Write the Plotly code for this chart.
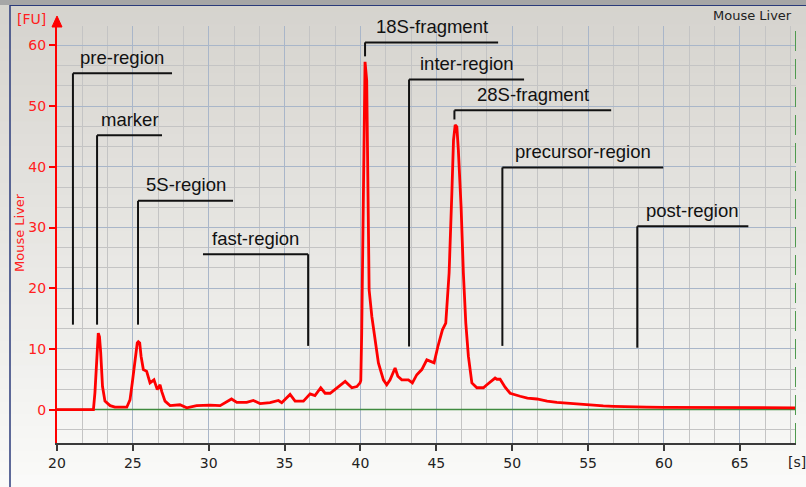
import plotly.graph_objects as go

# ---------------- data ----------------
time_s = [20.0, 22.40, 22.50, 22.62, 22.72, 22.80, 22.88, 23.0, 23.16, 23.5, 23.82, 24.6,
          24.81, 24.96, 25.14, 25.29, 25.36, 25.45, 25.54, 25.69, 25.91, 26.13, 26.39, 26.61,
          26.79, 26.90, 27.12, 27.45, 28.1, 28.55, 29.2, 30.08, 30.75, 31.5, 31.85, 32.5,
          32.94, 33.38, 34.04, 34.59, 34.81, 35.36, 35.69, 36.24, 36.68, 37.0, 37.38, 37.67,
          38.0, 38.44, 38.99, 39.43, 39.76, 39.97, 40.02, 40.08, 40.19, 40.30, 40.41, 40.48,
          40.57, 40.75, 40.96, 41.18, 41.51, 41.73, 41.95, 42.28, 42.46, 42.72, 43.16, 43.42,
          43.71, 44.04, 44.37, 44.59, 44.85, 45.1, 45.4, 45.62, 45.84, 46.02, 46.13, 46.24,
          46.35, 46.45, 46.63, 46.78, 46.94, 47.11, 47.34, 47.67, 48.1, 48.33, 48.87, 48.99,
          49.2, 49.53, 49.86, 50.52, 51.0, 51.62, 52.3, 52.94, 53.8, 54.92, 56.0, 56.67,
          57.5, 58.87, 60.0, 61.5, 63.26, 64.5, 65.5, 66.78, 68.65]
fluor = [0.0, 0.0, 2.8, 9.0, 12.6, 12.0, 9.4, 3.8, 1.4, 0.65, 0.4, 0.4,
         1.6, 4.4, 8.2, 11.0, 11.2, 11.0, 8.8, 6.6, 6.3, 4.4, 4.9, 3.3,
         4.1, 3.0, 1.4, 0.66, 0.8, 0.3, 0.66, 0.75, 0.66, 1.75, 1.2, 1.2,
         1.5, 1.0, 1.15, 1.5, 1.15, 2.5, 1.4, 1.4, 2.6, 2.3, 3.6, 2.7,
         2.7, 3.6, 4.65, 3.6, 3.8, 4.4, 4.8, 12.6, 40.0, 57.3, 54.2, 34.5,
         19.7, 15.3, 11.5, 7.7, 4.9, 4.1, 4.9, 6.85, 5.5, 4.9, 4.9, 4.4,
         5.75, 6.6, 8.2, 7.95, 7.7, 10.4, 13.15, 14.25, 22.5, 35.6, 44.4, 46.9,
         46.6, 42.7, 33.4, 22.5, 14.25, 8.8, 4.4, 3.6, 3.6, 4.1, 5.2, 5.0,
         5.0, 3.7, 2.7, 2.2, 1.9, 1.75, 1.4, 1.2, 1.0, 0.8, 0.6, 0.55,
         0.45, 0.4, 0.38, 0.35, 0.35, 0.38, 0.32, 0.3, 0.3]

region_names = ["pre-region", "marker", "5S-region", "fast-region", "18S-fragment",
                "inter-region", "28S-fragment", "precursor-region", "post-region"]
region_stem_x = [21.05, 22.64, 25.34, 36.55, 40.30, 43.20, 46.19, 49.35, 58.24]
region_bar_left = [21.05, 22.64, 25.34, 29.62, 40.30, 43.20, 46.19, 49.35, 58.24]
region_bar_right = [27.58, 26.92, 31.60, 36.55, 49.07, 50.78, 56.52, 59.95, 65.56]
region_bar_y = [55.4, 45.2, 34.4, 25.6, 60.5, 54.4, 49.3, 39.9, 30.2]
region_stem_bottom = [14.0, 14.0, 14.0, 10.5, 58.2, 10.4, 47.8, 10.5, 10.2]

x_ticks = [20, 25, 30, 35, 40, 45, 50, 55, 60, 65]
y_ticks = [0, 10, 20, 30, 40, 50, 60]
x_range = [20, 68.7]
y_range = [-5.5, 63.2]

# ---------------- layout helpers ----------------
W, H = 806, 487
L, R, T, B = 57, 10, 26, 44
PW, PH = W - L - R, H - T - B


def pxx(x):
    return (x - L) / PW


def pxy(y):
    return (H - B - y) / PH


fig = go.Figure()

# region marker lines
lx, ly = [], []
for i in range(len(region_names)):
    lx += [region_stem_x[i], region_stem_x[i], None, region_bar_left[i], region_bar_right[i], None]
    ly += [region_stem_bottom[i], region_bar_y[i], None, region_bar_y[i], region_bar_y[i], None]
fig.add_trace(go.Scatter(x=lx, y=ly, mode="lines", line=dict(color="#111111", width=2),
                         hoverinfo="skip", showlegend=False))

# baseline
fig.add_trace(go.Scatter(x=x_range, y=[0, 0], mode="lines", line=dict(color="#3f8a3f", width=1.5),
                         hoverinfo="skip", showlegend=False))

# electropherogram
fig.add_trace(go.Scatter(x=time_s, y=fluor, mode="lines", line=dict(color="#ff0000", width=2.8),
                         showlegend=False))

for i, name in enumerate(region_names):
    fig.add_annotation(x=(region_bar_left[i] + region_bar_right[i]) / 2, y=region_bar_y[i],
                       text=name, showarrow=False, xanchor="center", yanchor="middle", yshift=16,
                       font=dict(family="Liberation Sans", size=18.5, color="#111111"))

# background gradient
n = 40
c0 = (214, 212, 206)
c1 = (250, 250, 249)
for k in range(n):
    t = k / (n - 1)
    col = "rgb(%d,%d,%d)" % tuple(int(c0[j] + (c1[j] - c0[j]) * t) for j in range(3))
    y_top = H * k / n
    y_bot = H * (k + 1) / n + 1
    fig.add_shape(type="rect", xref="paper", yref="paper", x0=pxx(0), x1=pxx(W),
                  y0=pxy(y_bot), y1=pxy(y_top), fillcolor=col, line_width=0, layer="below")

# frame
fig.add_shape(type="rect", xref="paper", yref="paper", x0=pxx(0), x1=pxx(W), y0=pxy(5), y1=pxy(0),
              fillcolor="#a6a6a6", line_width=0, layer="below")
fig.add_shape(type="line", xref="paper", yref="paper", x0=pxx(10), x1=pxx(10), y0=pxy(H), y1=pxy(5),
              line=dict(color="#2a3a7a", width=1.5))
fig.add_shape(type="line", xref="paper", yref="paper", x0=pxx(10), x1=pxx(W), y0=pxy(5.5), y1=pxy(5.5),
              line=dict(color="#2a3a7a", width=1))

# right dashed green border
fig.add_shape(type="line", xref="x", yref="paper", x0=x_range[1], x1=x_range[1], y0=0, y1=1,
              line=dict(color="#4f9a4f", width=2, dash="20px,8px"))

# y axis arrow
fig.add_shape(type="path", xref="paper", yref="paper",
              path="M %f %f L %f %f L %f %f Z" % (pxx(L - 5), pxy(27), pxx(L), pxy(16), pxx(L + 5), pxy(27)),
              fillcolor="#ff0000", line=dict(color="#ff0000", width=1))

# texts
fig.add_annotation(xref="paper", yref="paper", x=pxx(31), y=pxy(19), text="[FU]", showarrow=False,
                   xanchor="center", yanchor="middle",
                   font=dict(family="DejaVu Sans", size=14, color="#ff2020"))
fig.add_annotation(xref="paper", yref="paper", x=pxx(797), y=pxy(462), text="[s]", showarrow=False,
                   xanchor="center", yanchor="middle",
                   font=dict(family="DejaVu Sans", size=14, color="#222222"))
fig.add_annotation(xref="paper", yref="paper", x=pxx(752), y=pxy(16), text="Mouse Liver", showarrow=False,
                   xanchor="center", yanchor="middle",
                   font=dict(family="DejaVu Sans", size=13, color="#222222"))
fig.add_annotation(xref="paper", yref="paper", x=pxx(19), y=pxy(233), text="Mouse Liver", showarrow=False,
                   xanchor="center", yanchor="middle",
                   textangle=-90, font=dict(family="DejaVu Sans", size=13, color="#ff2020"))

fig.update_layout(
    width=W, height=H,
    margin=dict(l=L, r=R, t=T, b=B),
    paper_bgcolor="#e6e5e1",
    plot_bgcolor="rgba(0,0,0,0)",
    showlegend=False,
    xaxis=dict(range=x_range, tickvals=x_ticks, ticktext=[str(v) for v in x_ticks],
               showgrid=True, gridcolor="#a9b6c9", gridwidth=1, zeroline=False,
               showline=True, linecolor="#3a3a3a", linewidth=2,
               ticks="outside", ticklen=6, tickcolor="#3a3a3a", tickwidth=1.5,
               tickfont=dict(family="DejaVu Sans", size=14, color="#222222"),
               minor=dict(dtick=5 / 3, tick0=20, showgrid=True, gridcolor="#c4c4c4", gridwidth=1, ticks="")),
    yaxis=dict(range=y_range, tickvals=y_ticks, ticktext=[str(v) for v in y_ticks],
               showgrid=True, gridcolor="#a9b6c9", gridwidth=1, zeroline=False,
               showline=True, linecolor="#ff0000", linewidth=2,
               ticks="outside", ticklen=6, tickcolor="#ff0000", tickwidth=1.5,
               tickfont=dict(family="DejaVu Sans", size=14, color="#ff2020"),
               minor=dict(dtick=10 / 3, tick0=0, showgrid=True, gridcolor="#c4c4c4", gridwidth=1, ticks="")),
)

fig.write_html("out.html", config={"displayModeBar": False},
               post_script="document.body.style.margin='0';")
